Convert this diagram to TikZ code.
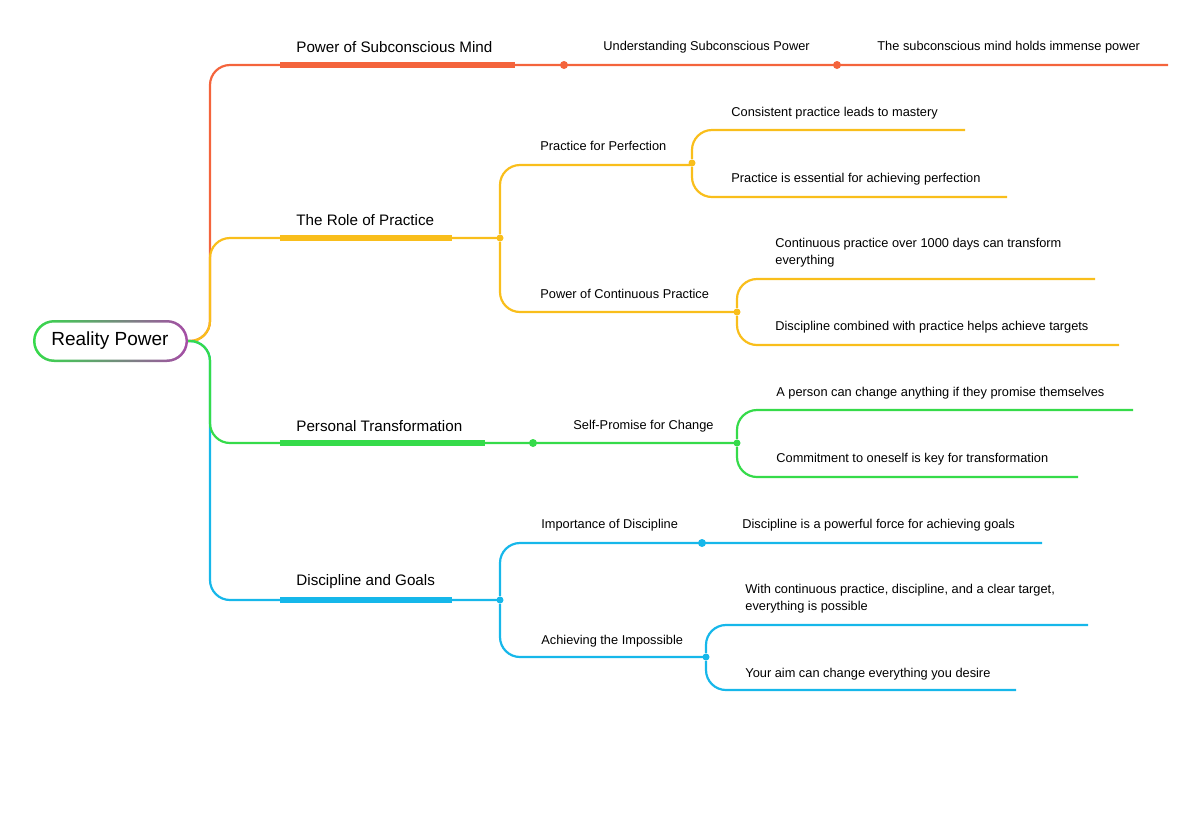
\documentclass[tikz,border=0pt]{standalone}
\usepackage{fontspec}
\setmainfont{Liberation Sans}
\usetikzlibrary{positioning}
\definecolor{orangeB}{HTML}{F4643C}
\definecolor{yellowB}{HTML}{F9BE1B}
\definecolor{greenB}{HTML}{35DB4A}
\definecolor{blueB}{HTML}{16B7EA}
\tikzset{
  branch/.style={line width=1.1pt, rounded corners=10pt},
  under/.style={line width=2.6pt},
  topic/.style={anchor=west, font=\fontsize{7.6}{9}\selectfont, inner sep=0pt},
  leaf/.style={anchor=west, font=\fontsize{6.4}{8.4}\selectfont, inner sep=0pt, align=left},
  dot/.style={circle, fill, inner sep=0pt, minimum size=4pt}
}
\begin{document}
\begin{tikzpicture}[x=0.5pt,y=-0.5pt]
  \useasboundingbox (0,0) rectangle (1200,821);

  % Root
  \shade[left color=greenB, right color=violet!70, rounded corners=10.5pt] (33,320) rectangle (188,362);
  \fill[white, rounded corners=9.5pt] (35.5,322.5) rectangle (185.5,359.5);
  \node[font=\fontsize{9.5}{11}\selectfont] (root) at (110,341) {Reality Power};
  \coordinate (r) at (188,341);

  % Power of Subconscious Mind
  \draw[branch, orangeB] (r) -- (210,341) -- (210,65) -- (1168,65);
  \draw[under, orangeB] (280,65) -- (515,65);
  \node[topic] (psm) at (296,47) {Power of Subconscious Mind};
  \node[dot, orangeB] (d1) at (564,65) {};
  \node[dot, orangeB] (d2) at (837,65) {};
  \node[leaf] (usp) at (603,47) {Understanding Subconscious Power};
  \node[leaf] (smh) at (877,47) {The subconscious mind holds immense power};

  % The Role of Practice
  \draw[branch, yellowB] (r) -- (210,341) -- (210,238) -- (500,238);
  \draw[under, yellowB] (280,238) -- (452,238);
  \node[topic] (rop) at (296,220) {The Role of Practice};
  \node[dot, yellowB, minimum size=3.5pt] (j1) at (500,238) {};
  \draw[branch, yellowB] (j1) -- (500,165) -- (692,165);
  \draw[branch, yellowB] (j1) -- (500,312) -- (737,312);
  \node[leaf] (pfp) at (540,146) {Practice for Perfection};
  \node[leaf] (pcp) at (540,294) {Power of Continuous Practice};
  \node[dot, yellowB, minimum size=3.5pt] (j2) at (692,163) {};
  \draw[branch, yellowB] (j2) -- (692,130) -- (965,130);
  \draw[branch, yellowB] (j2) -- (692,197) -- (1007,197);
  \node[leaf] at (731,113) {Consistent practice leads to mastery};
  \node[leaf] at (731,179) {Practice is essential for achieving perfection};
  \node[dot, yellowB, minimum size=3.5pt] (j3) at (737,312) {};
  \draw[branch, yellowB] (j3) -- (737,279) -- (1095,279);
  \draw[branch, yellowB] (j3) -- (737,345) -- (1119,345);
  \node[leaf] at (775,253) {Continuous practice over 1000 days can transform\\everything};
  \node[leaf] at (775,327) {Discipline combined with practice helps achieve targets};

  % Discipline and Goals
  \draw[branch, blueB] (r) -- (210,341) -- (210,600) -- (500,600);
  \draw[under, blueB] (280,600) -- (452,600);
  \node[topic] (dag) at (296,582) {Discipline and Goals};
  \node[dot, blueB, minimum size=3.5pt] (j4) at (500,600) {};
  \draw[branch, blueB] (j4) -- (500,543) -- (1042,543);
  \node[dot, blueB] (d3) at (702,543) {};
  \node[leaf] at (541,525) {Importance of Discipline};
  \node[leaf] at (742,525) {Discipline is a powerful force for achieving goals};
  \draw[branch, blueB] (j4) -- (500,657) -- (706,657);
  \node[leaf] at (541,641) {Achieving the Impossible};
  \node[dot, blueB, minimum size=3.5pt] (j5) at (706,657) {};
  \draw[branch, blueB] (j5) -- (706,625) -- (1088,625);
  \draw[branch, blueB] (j5) -- (706,690) -- (1016,690);
  \node[leaf] at (745,599) {With continuous practice, discipline, and a clear target,\\everything is possible};
  \node[leaf] at (745,674) {Your aim can change everything you desire};

  % Personal Transformation
  \draw[branch, greenB] (r) -- (210,341) -- (210,443) -- (737,443);
  \draw[under, greenB] (280,443) -- (485,443);
  \node[topic] (pt) at (296,426) {Personal Transformation};
  \node[dot, greenB] (d4) at (533,443) {};
  \node[leaf] at (573,426) {Self-Promise for Change};
  \node[dot, greenB, minimum size=3.5pt] (j6) at (737,443) {};
  \draw[branch, greenB] (j6) -- (737,410) -- (1133,410);
  \draw[branch, greenB] (j6) -- (737,477) -- (1078,477);
  \node[leaf] at (776,393) {A person can change anything if they promise themselves};
  \node[leaf] at (776,459) {Commitment to oneself is key for transformation};
\end{tikzpicture}
\end{document}
